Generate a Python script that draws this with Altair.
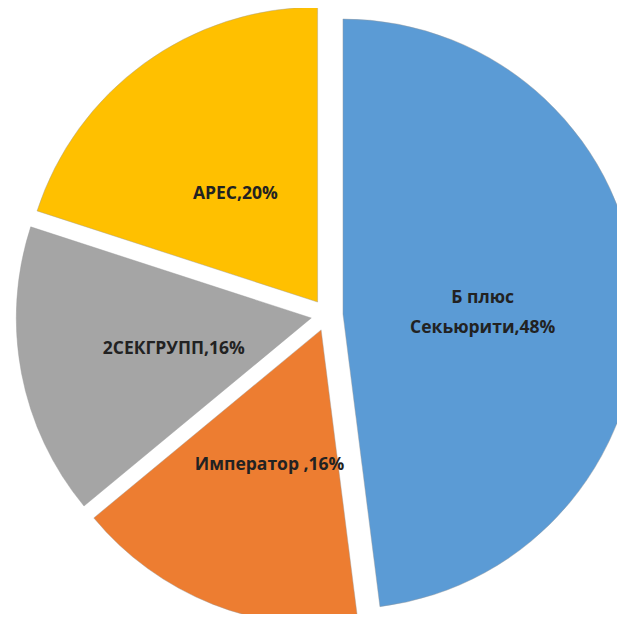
import altair as alt
import pandas as pd

names = ["Б плюс\nСекьюрити,48%", "Император ,16%", "2СЕКГРУПП,16%", "АРЕС,20%"]
shares = [48, 16, 16, 20]
colors = ["#5B9BD5", "#ED7D31", "#A5A5A5", "#FFC000"]
order = [1, 2, 3, 4]

df = pd.DataFrame({"name": names, "share": shares, "color": colors, "order": order})

CX, CY = 319, 307
EXPLODE = 16
R = 295
LABEL_R = 140

base = alt.Chart(df).transform_joinaggregate(
    total="sum(share)"
).transform_window(
    cum="sum(share)", sort=[alt.SortField("order")], frame=[None, 0]
).transform_calculate(
    t1="datum.cum / datum.total * 2 * PI",
    t0="(datum.cum - datum.share) / datum.total * 2 * PI",
    multi="indexof(datum.name, '\\n') >= 0",
).transform_calculate(
    mid="(datum.t0 + datum.t1) / 2"
).transform_calculate(
    px=f"{CX} + {EXPLODE} * sin(datum.mid)",
    py=f"{CY} - {EXPLODE} * cos(datum.mid)",
)

arcs = base.mark_arc(radius=R, stroke="#9a9a9a", strokeWidth=0.6, strokeOpacity=0.7).encode(
    x=alt.X("px:Q", scale=None),
    y=alt.Y("py:Q", scale=None),
    theta=alt.Theta("t0:Q", scale=None),
    theta2="t1:Q",
    color=alt.Color("color:N", scale=None),
)

text_style = dict(
    radius=LABEL_R,
    font="Open Sans",
    fontWeight="bold",
    fontSize=17.5,
    color="#222222",
    lineBreak="\n",
    lineHeight=30,
    align="center",
    baseline="middle",
)
text_enc = dict(
    x=alt.X("px:Q", scale=None),
    y=alt.Y("py:Q", scale=None),
    theta=alt.Theta("mid:Q", scale=None),
    text="name:N",
)

labels1 = base.transform_filter("!datum.multi").mark_text(dy=5, **text_style).encode(**text_enc)
labels2 = base.transform_filter("datum.multi").mark_text(dy=-7, **text_style).encode(**text_enc)

chart = alt.layer(arcs, labels1, labels2).properties(
    width=609, height=606, padding=0, autosize=alt.AutoSizeParams(type="none")
).configure_view(stroke=None)

chart.save("out.html", embed_options={"renderer": "svg", "actions": False})
